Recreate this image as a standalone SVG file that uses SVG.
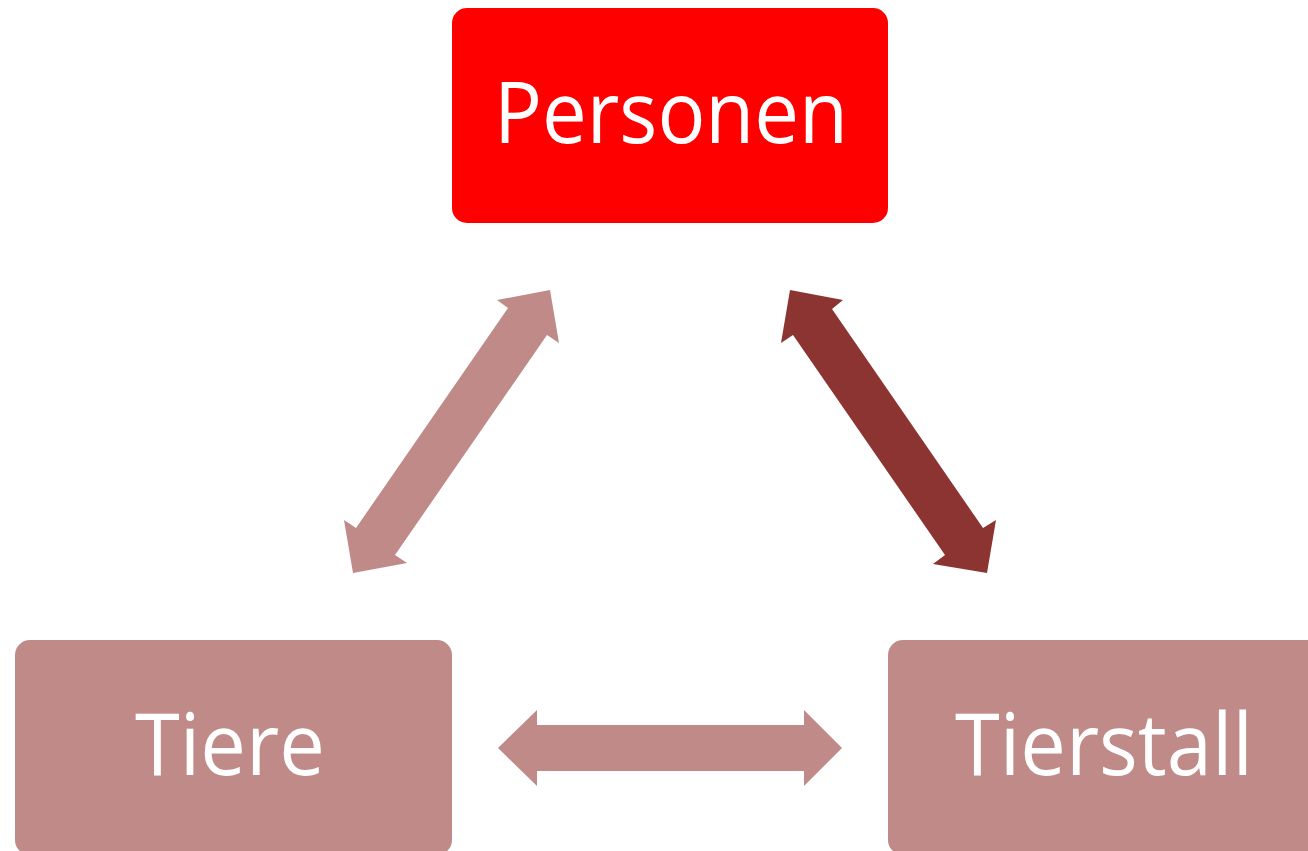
<svg xmlns="http://www.w3.org/2000/svg" width="1308" height="851" viewBox="0 0 1308 851">
<style>
.lbl{font-family:"Open Sans","Noto Sans","Liberation Sans",sans-serif;fill:#FFFFFF;font-size:86px;text-anchor:middle}
.light{fill:#BF8A88}
.dark{fill:#8C3432}
</style>
<rect width="1308" height="851" fill="#FFFFFF"/>
<g id="connectors">
<polygon class="light" points="550,290 559,343 547,335 395,555 407,563 353,573 344,520 356,528 508,308 497,300"/>
<polygon class="dark" points="790,290 843,300 832,309 983,528 996,520 987,573 933,564 945,555 793,335 781,343"/>
<polygon class="light" points="498,748 537,710 537,725 804,725 804,710 842,748 804,786 804,771 537,771 537,786"/>
</g>
<g id="personen">
<rect x="452" y="8" width="436" height="215" rx="15" fill="#FF0000"/>
<text class="lbl" x="671" y="143" textLength="354" lengthAdjust="spacingAndGlyphs">Personen</text>
</g>
<g id="tiere">
<rect x="15" y="640" width="437" height="215" rx="15" class="light"/>
<text class="lbl" x="230" y="775" textLength="190" lengthAdjust="spacingAndGlyphs">Tiere</text>
</g>
<g id="tierstall">
<rect x="888" y="640" width="437" height="215" rx="15" class="light"/>
<text class="lbl" x="1104" y="775" textLength="298" lengthAdjust="spacingAndGlyphs">Tierstall</text>
</g>
</svg>
